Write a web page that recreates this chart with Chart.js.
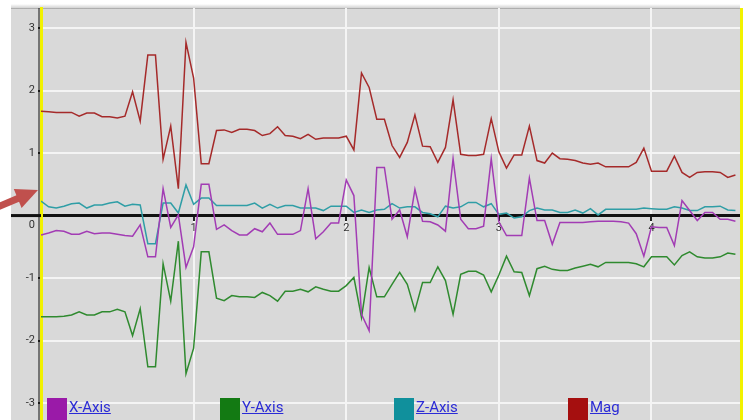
<!DOCTYPE html>
<html>
<head>
<meta charset="utf-8">
<script src="https://cdn.jsdelivr.net/npm/chart.js@4.4.0/dist/chart.umd.min.js"></script>
<style>
  body { margin: 0; background: #fff; }
  #wrap { position: relative; width: 747px; height: 420px; overflow: hidden; }
  #legend { position: absolute; left: 0; top: 398px; width: 747px; height: 22px; pointer-events: none; }
  .item { position: absolute; top: 0; height: 22px; }
  .item .box { position: absolute; left: 0; top: 0; width: 20px; height: 22px; }
  .item .lbl { position: absolute; left: 22px; top: 0; line-height: 22px; white-space: nowrap;
               font: 15px Roboto, sans-serif; color: #2b2bd6; text-decoration: underline; }
</style>
</head>
<body>
<div id="wrap">
  <canvas id="myChart" width="747" height="420"></canvas>
  <div id="legend"></div>
</div>
<script>
// sample times (s), one sample every 0.05 s
var times = [0,0.05,0.1,0.15,0.2,0.25,0.3,0.35,0.4,0.45,
  0.5,0.55,0.6,0.65,0.7,0.75,0.8,0.85,0.9,0.95,
  1,1.05,1.1,1.15,1.2,1.25,1.3,1.35,1.4,1.45,
  1.5,1.55,1.6,1.65,1.7,1.75,1.8,1.85,1.9,1.95,
  2,2.05,2.1,2.15,2.2,2.25,2.3,2.35,2.4,2.45,
  2.5,2.55,2.6,2.65,2.7,2.75,2.8,2.85,2.9,2.95,
  3,3.05,3.1,3.15,3.2,3.25,3.3,3.35,3.4,3.45,
  3.5,3.55,3.6,3.65,3.7,3.75,3.8,3.85,3.9,3.95,
  4,4.05,4.1,4.15,4.2,4.25,4.3,4.35,4.4,4.45,
  4.5,4.55];

var xAxis = [-0.31,-0.28,-0.24,-0.25,-0.30,-0.30,-0.25,-0.29,-0.28,-0.28,
  -0.30,-0.32,-0.33,-0.15,-0.66,-0.66,0.43,-0.19,0.01,-0.83,
  -0.50,0.50,0.50,-0.22,-0.15,-0.24,-0.31,-0.31,-0.21,-0.26,
  -0.12,-0.30,-0.30,-0.30,-0.24,0.43,-0.37,-0.26,-0.12,-0.12,
  0.57,0.32,-1.58,-1.84,0.77,0.77,-0.06,0.09,-0.34,0.42,
  -0.09,-0.10,-0.15,-0.25,0.91,-0.06,-0.21,-0.21,-0.17,0.91,
  -0.10,-0.32,-0.32,-0.32,0.60,-0.08,-0.08,-0.46,-0.11,-0.11,
  -0.11,-0.11,-0.10,-0.09,-0.09,-0.09,-0.10,-0.12,-0.29,-0.65,
  -0.18,-0.19,-0.19,-0.48,0.24,0.08,-0.08,0.05,0.05,-0.06,
  -0.06,-0.09];

var yAxis = [-1.62,-1.62,-1.62,-1.61,-1.59,-1.54,-1.59,-1.59,-1.54,-1.54,
  -1.50,-1.54,-1.92,-1.49,-2.42,-2.42,-0.77,-1.37,-0.41,-2.53,
  -2.12,-0.58,-0.58,-1.32,-1.36,-1.28,-1.30,-1.30,-1.31,-1.23,
  -1.28,-1.37,-1.21,-1.21,-1.18,-1.22,-1.14,-1.18,-1.21,-1.21,
  -1.12,-0.99,-1.63,-0.83,-1.30,-1.30,-1.10,-0.91,-1.10,-1.52,
  -1.07,-1.07,-0.82,-1.04,-1.58,-0.94,-0.89,-0.89,-0.95,-1.22,
  -0.95,-0.65,-0.90,-0.91,-1.28,-0.85,-0.81,-0.86,-0.88,-0.88,
  -0.84,-0.81,-0.78,-0.82,-0.75,-0.75,-0.75,-0.75,-0.77,-0.82,
  -0.66,-0.66,-0.66,-0.79,-0.64,-0.58,-0.66,-0.68,-0.68,-0.66,
  -0.60,-0.62];

var zAxis = [0.23,0.14,0.12,0.15,0.19,0.20,0.12,0.17,0.17,0.20,
  0.22,0.15,0.18,0.17,-0.45,-0.45,0.20,0.20,0.04,0.49,
  0.18,0.28,0.28,0.16,0.16,0.16,0.16,0.16,0.20,0.12,
  0.18,0.12,0.16,0.16,0.12,0.12,0.12,0.08,0.15,0.15,
  0.15,0.05,0.09,0.05,0.09,0.10,0.19,0.12,0.14,0.14,
  0.05,0.03,-0.02,0.15,0.12,0.14,0.21,0.21,0.14,0.19,
  0.02,0.04,-0.04,-0.02,0.08,0.12,0.09,0.09,0.05,0.05,
  0.09,0.04,0.11,0.01,0.10,0.10,0.10,0.10,0.10,0.12,
  0.11,0.10,0.10,0.14,0.12,0.08,0.08,0.14,0.14,0.15,
  0.09,0.08];

var mag = [1.67,1.66,1.65,1.65,1.65,1.59,1.64,1.64,1.58,1.58,
  1.56,1.59,1.98,1.51,2.57,2.57,0.90,1.43,0.43,2.77,
  2.20,0.83,0.83,1.36,1.37,1.33,1.38,1.38,1.36,1.28,
  1.31,1.42,1.28,1.27,1.23,1.30,1.22,1.24,1.24,1.24,
  1.27,1.05,2.28,2.05,1.54,1.54,1.12,0.93,1.17,1.61,
  1.11,1.10,0.85,1.09,1.85,0.98,0.96,0.96,0.98,1.55,
  1.02,0.76,0.97,0.97,1.43,0.88,0.84,1.00,0.91,0.90,
  0.88,0.84,0.82,0.84,0.78,0.78,0.78,0.78,0.85,1.08,
  0.71,0.71,0.71,0.95,0.69,0.61,0.69,0.70,0.70,0.69,
  0.61,0.65];

var seriesNames = ['X-Axis', 'Y-Axis', 'Z-Axis', 'Mag'];
var yTicks = [-3, -2, -1, 0, 1, 2, 3];
var xTicks = [1, 2, 3, 4];

//pair each value with its sample time
function toPoints(values){
  return values.map(function(v, i){ return {x: times[i], y: v}; });
}

//gray plot background, top shadow, axis extras and the red arrow
var decorPlugin = {
  id: 'decor',
  beforeDraw: function(chart){
    var c = chart.ctx, a = chart.chartArea;
    c.save();
    c.fillStyle = '#ffffff';
    c.fillRect(0, 0, chart.width, chart.height);
    c.fillStyle = '#d9d9d9';
    c.fillRect(11, a.top, a.right - 11, chart.height - a.top);
    var g = c.createLinearGradient(0, a.top - 4, 0, a.top + 1);
    g.addColorStop(0, 'rgba(0,0,0,0)');
    g.addColorStop(1, 'rgba(0,0,0,0.22)');
    c.fillStyle = g;
    c.fillRect(11, a.top - 4, a.right - 11, 5);
    c.restore();
  },
  afterDraw: function(chart){
    var c = chart.ctx, a = chart.chartArea;
    var y0 = chart.scales.y.getPixelForValue(0);
    c.save();
    //zero line continues left of the y axis
    c.strokeStyle = '#111';
    c.lineWidth = 3;
    c.beginPath(); c.moveTo(11, y0); c.lineTo(a.left, y0); c.stroke();
    //thin dark edge beside the yellow axis
    c.lineWidth = 1;
    c.beginPath(); c.moveTo(a.left - 2, a.top); c.lineTo(a.left - 2, chart.height); c.stroke();
    //yellow axis lines run down to the canvas edge
    c.strokeStyle = '#f2f200';
    c.lineWidth = 3;
    c.beginPath(); c.moveTo(a.left, a.bottom); c.lineTo(a.left, chart.height); c.stroke();
    c.beginPath(); c.moveTo(a.right + 1.5, a.top); c.lineTo(a.right + 1.5, chart.height); c.stroke();
    //red pointer arrow
    c.strokeStyle = '#c0504d';
    c.fillStyle = '#c0504d';
    c.lineWidth = 7;
    c.beginPath(); c.moveTo(-5, 208); c.lineTo(19, 198); c.stroke();
    c.beginPath();
    c.moveTo(38, 190); c.lineTo(21.6, 208); c.lineTo(13.8, 189); c.closePath();
    c.fill();
    c.restore();
  }
};

var ctx = document.getElementById('myChart');
var chart = new Chart(ctx, {
  type: 'line',
  data: {
    datasets: [
      { label: seriesNames[0], data: toPoints(xAxis), borderColor: '#a23cb4', legendColor: '#9a1aa8' },
      { label: seriesNames[1], data: toPoints(yAxis), borderColor: '#2f8a2f', legendColor: '#137a13' },
      { label: seriesNames[2], data: toPoints(zAxis), borderColor: '#2f9ea6', legendColor: '#10909c' },
      { label: seriesNames[3], data: toPoints(mag),   borderColor: '#a52a2a', legendColor: '#a50f0f' }
    ]
  },
  options: {
    responsive: false,
    animation: false,
    layout: { padding: { top: 8, right: 7, bottom: 0, left: 0 } },
    elements: {
      point: { radius: 0 },
      line: { borderWidth: 1.5, tension: 0 }
    },
    plugins: { legend: { display: false }, tooltip: { enabled: false } },
    scales: {
      x: {
        type: 'linear',
        min: 0,
        max: 4.58,
        position: { y: 0 },
        afterBuildTicks: function(s){ s.ticks = xTicks.map(function(v){ return {value: v}; }); },
        afterFit: function(s){ s.height = 0; s.paddingLeft = 0; s.paddingRight = 0; s.paddingTop = 0; s.paddingBottom = 0; },
        ticks: { color: '#333', font: { family: 'Roboto', size: 11 }, padding: 2, maxRotation: 0, autoSkip: false },
        grid: { color: '#f4f4f4', lineWidth: 2, tickLength: 4, tickColor: '#222' },
        border: { color: '#111', width: 3 }
      },
      y: {
        min: -3.27,
        max: 3.32,
        afterBuildTicks: function(s){ s.ticks = yTicks.map(function(v){ return {value: v}; }); },
        afterFit: function(s){ s.width = 41; s.paddingTop = 0; s.paddingBottom = 0; },
        ticks: {
          color: '#333',
          font: { family: 'Roboto', size: 11, lineHeight: 1.8 },
          padding: 3,
          autoSkip: false,
          callback: function(v){ return v === 0 ? ['', '0'] : v; }
        },
        grid: { color: '#f4f4f4', lineWidth: 2, tickLength: 3, tickColor: '#222' },
        border: { color: '#f2f200', width: 3 }
      }
    }
  },
  plugins: [decorPlugin]
});

//legend under the plot, built from the datasets
var legendEl = document.getElementById('legend');
var legendLeft = [47, 220, 394, 568];
chart.data.datasets.forEach(function(ds, i){
  var item = document.createElement('div');
  item.className = 'item';
  item.style.left = legendLeft[i] + 'px';
  var box = document.createElement('span');
  box.className = 'box';
  box.style.background = ds.legendColor;
  var lbl = document.createElement('span');
  lbl.className = 'lbl';
  lbl.textContent = ds.label;
  item.appendChild(box);
  item.appendChild(lbl);
  legendEl.appendChild(item);
});
</script>
</body>
</html>
